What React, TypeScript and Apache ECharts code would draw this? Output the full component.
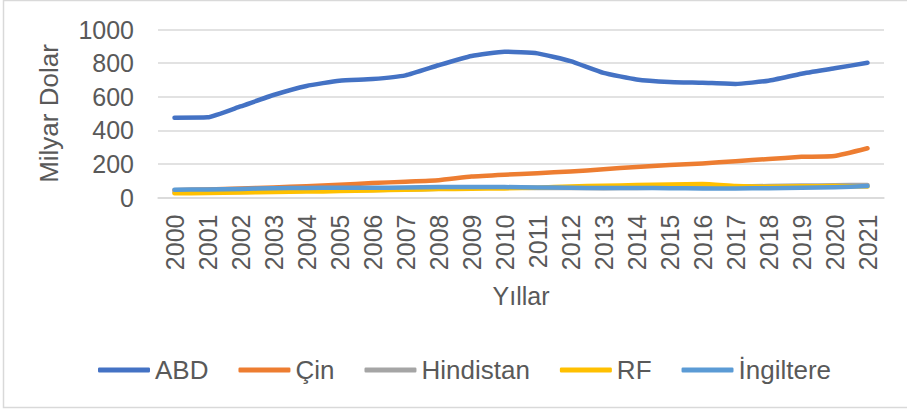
import React, { useEffect, useRef } from "react";
import * as echarts from "echarts";

const years = ["2000","2001","2002","2003","2004","2005","2006","2007","2008","2009","2010","2011","2012","2013","2014","2015","2016","2017","2018","2019","2020","2021"];
const abd = [475, 477, 542, 610, 664, 695, 705, 727, 787, 842, 868, 858, 812, 742, 703, 688, 683, 676, 695, 737, 769, 802];
const cin = [43, 48, 54, 60, 67, 76, 86, 94, 103, 125, 136, 145, 155, 168, 182, 193, 203, 216, 229, 242, 247, 293];
const hindistan = [30, 32, 33, 35, 40, 44, 45, 47, 52, 58, 58, 57, 57, 55, 57, 58, 62, 66, 68, 71, 73, 75];
const rf = [25, 27, 30, 33, 35, 38, 42, 46, 50, 52, 54, 58, 66, 70, 74, 78, 80, 68, 64, 67, 68, 66];
const ingiltere = [46, 48, 51, 55, 57, 58, 58, 59, 62, 62, 62, 60, 58, 56, 57, 55, 54, 54, 55, 58, 61, 68];

const seriesNames = ["ABD", "Çin", "Hindistan", "RF", "İngiltere"];
const seriesColors = ["#4472C4", "#ED7D31", "#A5A5A5", "#FFC000", "#5B9BD5"];
const seriesData = [abd, cin, hindistan, rf, ingiltere];

const FONT = "Liberation Sans, Arial, sans-serif";
const TXT = "#595959";

export default function App() {
  const ref = useRef<HTMLDivElement>(null);
  useEffect(() => {
    if (!ref.current) return;
    const chart = echarts.init(ref.current, undefined, { renderer: "svg" });
    chart.setOption({
      animation: false,
      backgroundColor: "#ffffff",
      textStyle: { fontFamily: FONT },
      graphic: [
        {
          type: "rect",
          shape: { x: 3.5, y: 0.5, width: 905, height: 407 },
          style: { fill: "none", stroke: "#d9d9d9", lineWidth: 1.5 },
          silent: true,
        },
      ],
      grid: { left: 158, right: 23, top: 29.5, bottom: 211.5, containLabel: false },
      legend: {
        data: seriesNames,
        top: 352,
        left: 93,
        icon: "roundRect",
        itemWidth: 52,
        itemHeight: 5,
        itemGap: 30,
        textStyle: { color: TXT, fontSize: 26, fontFamily: FONT },
      },
      xAxis: {
        type: "category",
        data: years,
        boundaryGap: true,
        name: "Yıllar",
        nameLocation: "middle",
        nameGap: 86,
        nameTextStyle: { color: TXT, fontSize: 25, fontFamily: FONT },
        axisLine: { show: true, lineStyle: { color: "#d9d9d9", width: 1.5 } },
        axisTick: { show: false },
        axisLabel: { rotate: 90, color: TXT, fontSize: 25, margin: 17, fontFamily: FONT },
      },
      yAxis: {
        type: "value",
        min: 0,
        max: 1000,
        interval: 200,
        name: "Milyar Dolar",
        nameLocation: "middle",
        nameGap: 96,
        nameTextStyle: { color: TXT, fontSize: 26, fontFamily: FONT },
        axisLine: { show: false },
        axisTick: { show: false },
        axisLabel: { color: TXT, fontSize: 25, margin: 24, fontFamily: FONT, formatter: (v: number) => String(v) },
        splitLine: { lineStyle: { color: "#d9d9d9", width: 1.5 } },
      },
      series: seriesNames.map((n, i) => ({
        name: n,
        type: "line",
        data: seriesData[i],
        color: seriesColors[i],
        symbol: "none",
        showSymbol: false,
        smooth: 0.15,
        lineStyle: { width: 4.5, color: seriesColors[i], cap: "round", join: "round" },
      })),
    });
    return () => chart.dispose();
  }, []);
  return <div ref={ref} style={{ position: "fixed", left: 0, top: 0, width: 907, height: 409 }} />;
}
